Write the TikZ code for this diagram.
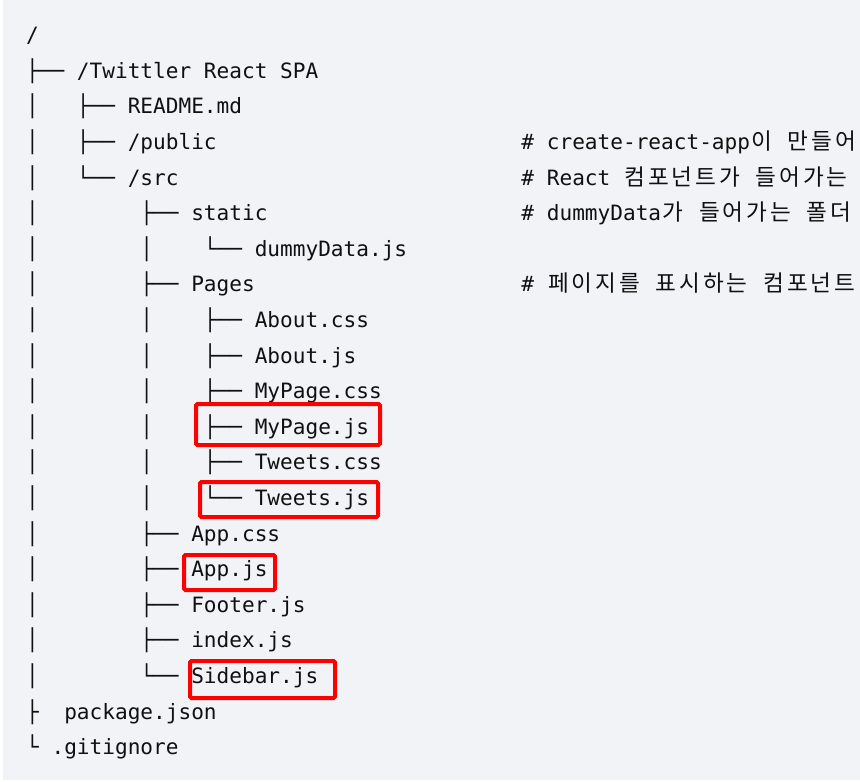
\documentclass[tikz,border=0pt]{standalone}
\usepackage{fontspec}
\setmainfont{DejaVu Sans Mono}
\newfontfamily\kofont{Noto Sans CJK KR}
\definecolor{bg}{HTML}{F2F3F7}
\definecolor{ink}{HTML}{101010}
\definecolor{markred}{HTML}{FF0000}
\newcommand\ko[1]{\makebox[23.7pt][c]{\kofont\fontsize{22.6}{25}\selectfont #1}}
\tikzset{
  tok/.style={inner sep=0pt,outer sep=0pt,anchor=base west,text=ink,font=\fontsize{21.1}{25}\selectfont},
  markbox/.style={draw=markred,line width=4pt,rounded corners=1.5pt}
}
\newcommand\putt[4]{\node[tok] (#1) at ({26.15+12.7*#2},{42.7+35.6*#3}) {#4};}
\begin{document}
\begin{tikzpicture}[x=1pt,y=-1pt]
\useasboundingbox (0,0) rectangle (860,782);
\fill[white] (0,0) rectangle (860,782);
\fill[bg] (3,0) rectangle (860,780);
\clip (0,0) rectangle (860,782);
% row 0
\putt{root}{0}{0}{/}
% row 1
\putt{b1}{0}{1}{├──}
\putt{spa}{4}{1}{/Twittler React SPA}
% row 2
\putt{v2}{0}{2}{│}
\putt{b2}{4}{2}{├──}
\putt{readme}{8}{2}{README.md}
% row 3
\putt{v3}{0}{3}{│}
\putt{b3}{4}{3}{├──}
\putt{public}{8}{3}{/public}
\putt{c3}{39}{3}{\# create-react-app\ko{이} \ko{만}\ko{들}\ko{어}}
% row 4
\putt{v4}{0}{4}{│}
\putt{b4}{4}{4}{└──}
\putt{src}{8}{4}{/src}
\putt{c4}{39}{4}{\# React \ko{컴}\ko{포}\ko{넌}\ko{트}\ko{가} \ko{들}\ko{어}\ko{가}\ko{는}}
% row 5
\putt{v5}{0}{5}{│}
\putt{b5}{9}{5}{├──}
\putt{static}{13}{5}{static}
\putt{c5}{39}{5}{\# dummyData\ko{가} \ko{들}\ko{어}\ko{가}\ko{는} \ko{폴}\ko{더}}
% row 6
\putt{v6}{0}{6}{│}
\putt{w6}{9}{6}{│}
\putt{b6}{14}{6}{└──}
\putt{dummy}{18}{6}{dummyData.js}
% row 7
\putt{v7}{0}{7}{│}
\putt{b7}{9}{7}{├──}
\putt{pages}{13}{7}{Pages}
\putt{c7}{39}{7}{\# \ko{페}\ko{이}\ko{지}\ko{를} \ko{표}\ko{시}\ko{하}\ko{는} \ko{컴}\ko{포}\ko{넌}\ko{트}}
% rows 8-13
\putt{v8}{0}{8}{│}\putt{w8}{9}{8}{│}\putt{b8}{14}{8}{├──}\putt{aboutcss}{18}{8}{About.css}
\putt{v9}{0}{9}{│}\putt{w9}{9}{9}{│}\putt{b9}{14}{9}{├──}\putt{aboutjs}{18}{9}{About.js}
\putt{v10}{0}{10}{│}\putt{w10}{9}{10}{│}\putt{b10}{14}{10}{├──}\putt{mypagecss}{18}{10}{MyPage.css}
\putt{v11}{0}{11}{│}\putt{w11}{9}{11}{│}\putt{b11}{14}{11}{├──}\putt{mypagejs}{18}{11}{MyPage.js}
\putt{v12}{0}{12}{│}\putt{w12}{9}{12}{│}\putt{b12}{14}{12}{├──}\putt{tweetscss}{18}{12}{Tweets.css}
\putt{v13}{0}{13}{│}\putt{w13}{9}{13}{│}\putt{b13}{14}{13}{└──}\putt{tweetsjs}{18}{13}{Tweets.js}
% rows 14-18
\putt{v14}{0}{14}{│}\putt{b14}{9}{14}{├──}\putt{appcss}{13}{14}{App.css}
\putt{v15}{0}{15}{│}\putt{b15}{9}{15}{├──}\putt{appjs}{13}{15}{App.js}
\putt{v16}{0}{16}{│}\putt{b16}{9}{16}{├──}\putt{footer}{13}{16}{Footer.js}
\putt{v17}{0}{17}{│}\putt{b17}{9}{17}{├──}\putt{index}{13}{17}{index.js}
\putt{v18}{0}{18}{│}\putt{b18}{9}{18}{└──}\putt{sidebar}{13}{18}{Sidebar.js}
% rows 19-20
\putt{b19}{0}{19}{├}\putt{pkg}{3}{19}{package.json}
\putt{b20}{0}{20}{└}\putt{gitignore}{2}{20}{.gitignore}
% red highlight boxes
\draw[markbox] (196,404) rectangle (380,445);
\draw[markbox] (200,482) rectangle (378,517);
\draw[markbox] (184,555) rectangle (275,590);
\draw[markbox] (190,661) rectangle (335,698);
\end{tikzpicture}
\end{document}
